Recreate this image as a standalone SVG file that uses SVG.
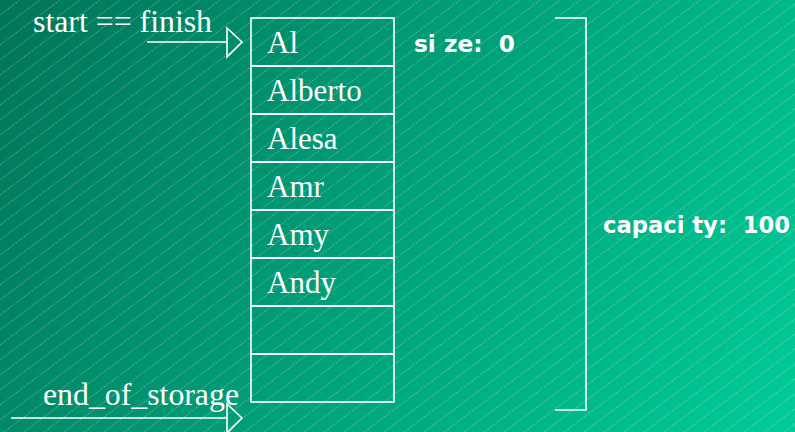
<svg xmlns="http://www.w3.org/2000/svg" width="795" height="432" viewBox="0 0 795 432">
<defs>
<linearGradient id="bg" x1="0" y1="0" x2="795" y2="432" gradientUnits="userSpaceOnUse">
<stop offset="0" stop-color="#007558"/>
<stop offset="0.5" stop-color="#00a27a"/>
<stop offset="1" stop-color="#00cc98"/>
</linearGradient>
<pattern id="hatch" patternUnits="userSpaceOnUse" width="20" height="15">
<path d="M-2,16.5 L22,-1.5" stroke="#ffffff" stroke-opacity="0.35" stroke-width="1" stroke-dasharray="1.5 1"/>
</pattern>
<style>
.ln{stroke:#ffffff;stroke-width:1.6;fill:none}
.cell{stroke:#ffffff;stroke-width:1.6;fill:none}
.serif{font-family:"Liberation Serif","Times New Roman",serif;font-size:31px;fill:#ffffff}
.sans{font-family:"DejaVu Sans","Verdana",sans-serif;font-size:23px;font-weight:bold;fill:#ffffff;white-space:pre}
</style>
</defs>
<rect x="0" y="0" width="795" height="432" fill="url(#bg)"/>
<rect x="0" y="0" width="795" height="432" fill="url(#hatch)"/>

<g id="cells">
<g id="cell-Al"><rect class="cell" x="251" y="18" width="143" height="48"/><text class="serif" x="267" y="53">Al</text></g>
<g id="cell-Alberto"><rect class="cell" x="251" y="66" width="143" height="48"/><text class="serif" x="267" y="101">Alberto</text></g>
<g id="cell-Alesa"><rect class="cell" x="251" y="114" width="143" height="48"/><text class="serif" x="267" y="149">Alesa</text></g>
<g id="cell-Amr"><rect class="cell" x="251" y="162" width="143" height="48"/><text class="serif" x="267" y="197">Amr</text></g>
<g id="cell-Amy"><rect class="cell" x="251" y="210" width="143" height="48"/><text class="serif" x="267" y="245">Amy</text></g>
<g id="cell-Andy"><rect class="cell" x="251" y="258" width="143" height="48"/><text class="serif" x="267" y="293">Andy</text></g>
<g id="cell-empty1"><rect class="cell" x="251" y="306" width="143" height="48"/></g>
<g id="cell-empty2"><rect class="cell" x="251" y="354" width="143" height="48"/></g>
</g>

<g id="label-start"><text class="serif" x="33" y="32" textLength="179" lengthAdjust="spacingAndGlyphs">start == finish</text></g>
<g id="label-end"><text class="serif" x="43" y="405" textLength="196" lengthAdjust="spacingAndGlyphs">end_of_storage</text></g>
<g id="label-size"><text class="sans" x="414" y="52" xml:space="preserve" textLength="101" lengthAdjust="spacingAndGlyphs">si ze:  0</text></g>
<g id="label-capacity"><text class="sans" x="603" y="233" xml:space="preserve" textLength="187" lengthAdjust="spacingAndGlyphs">capaci ty:  100</text></g>

<g id="connectors">
<path class="ln" d="M147,42 L227,42"/>
<path class="ln" d="M227,28 L242,42 L227,57 Z"/>
<path class="ln" d="M11,418 L227,418"/>
<path class="ln" d="M227,404 L242,418 L227,433 Z"/>
<path class="ln" d="M555,18 L586,18 L586,410 L555,410"/>
</g>
</svg>
